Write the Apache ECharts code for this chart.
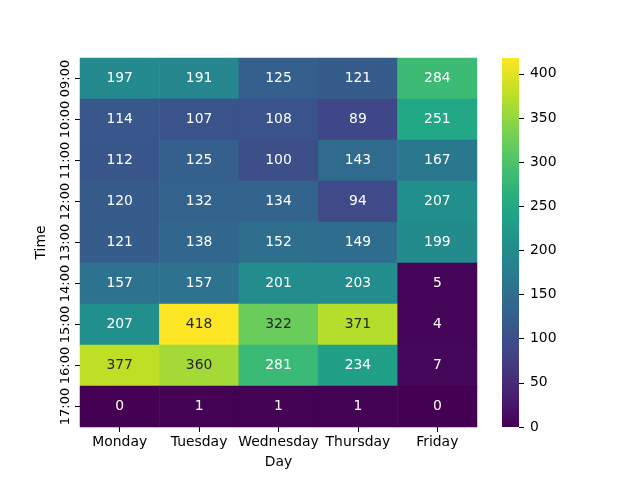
<!DOCTYPE html>
<html><head><meta charset="utf-8">
<script src="https://cdn.jsdelivr.net/npm/echarts@6/dist/echarts.min.js"></script>
<style>html,body{margin:0;padding:0;background:#fff}#c{width:640px;height:480px}</style>
</head><body><div id="c"></div>
<script>
const days = ['Monday','Tuesday','Wednesday','Thursday','Friday'];
const times = ['09:00','10:00','11:00','12:00','13:00','14:00','15:00','16:00','17:00'];
const values = [
  [197,191,125,121,284],
  [114,107,108,89,251],
  [112,125,100,143,167],
  [120,132,134,94,207],
  [121,138,152,149,199],
  [157,157,201,203,5],
  [207,418,322,371,4],
  [377,360,281,234,7],
  [0,1,1,1,0]
];
const vmin = 0, vmax = 418;
const colorTicks = [0,50,100,150,200,250,300,350,400];
const viridis = ['#440154','#482475','#414487','#355f8d','#2a788e','#21918c','#22a884','#44bf70','#7ad151','#bddf26','#fde725'];

const data = [];
times.forEach((t,i)=>days.forEach((d,j)=>{
  const v = values[i][j];
  data.push({value:[j,i,v], label:{color: v>=300 ? '#262626' : '#ffffff'}});
}));

const chart = echarts.init(document.getElementById('c'));
const font = 'DejaVu Sans';
const fs = 13.9;
chart.setOption({
  animation:false,
  textStyle:{fontFamily:font},
  grid:[
    {left:80,right:163,top:58,bottom:53},
    {left:502,width:17,top:58,bottom:53}
  ],
  xAxis:[
    {type:'category',data:days,gridIndex:0,name:'Day',nameLocation:'middle',nameGap:28,
     nameTextStyle:{fontSize:fs,color:'#000',fontFamily:font},
     axisLine:{show:false},axisTick:{show:true,alignWithLabel:true,interval:0,length:5,lineStyle:{color:'#000'}},
     axisLabel:{fontSize:fs,color:'#000',fontFamily:font,margin:8,interval:0},splitLine:{show:false}},
    {type:'category',data:['c'],gridIndex:1,show:false}
  ],
  yAxis:[
    {type:'category',data:times,gridIndex:0,inverse:true,name:'Time',nameLocation:'middle',nameGap:32,
     nameTextStyle:{fontSize:fs,color:'#000',fontFamily:font},
     axisLine:{show:false},axisTick:{show:true,alignWithLabel:true,interval:0,length:5,lineStyle:{color:'#000'}},
     axisLabel:{fontSize:13,color:'#000',rotate:90,fontFamily:font,margin:8,interval:0},splitLine:{show:false}},
    {type:'value',gridIndex:1,min:vmin,max:vmax,position:'right',interval:50,
     axisLine:{show:false},
     axisTick:{show:true,length:5,lineStyle:{color:'#000'},customValues:colorTicks},
     axisLabel:{fontSize:fs,color:'#000',fontFamily:font,margin:11,customValues:colorTicks},
     splitLine:{show:false}}
  ],
  visualMap:{show:false,min:vmin,max:vmax,seriesIndex:0,dimension:2,inRange:{color:viridis}},
  series:[
    {type:'heatmap',xAxisIndex:0,yAxisIndex:0,data:data,
     label:{show:true,fontSize:fs,fontFamily:font,formatter:p=>p.value[2]},
     itemStyle:{borderWidth:0}},
    {type:'bar',xAxisIndex:1,yAxisIndex:1,data:[vmax],barWidth:'100%',silent:true,
     itemStyle:{color:new echarts.graphic.LinearGradient(0,1,0,0,
       viridis.map((c,i)=>({offset:i/(viridis.length-1),color:c})))}}
  ]
});
</script></body></html>
